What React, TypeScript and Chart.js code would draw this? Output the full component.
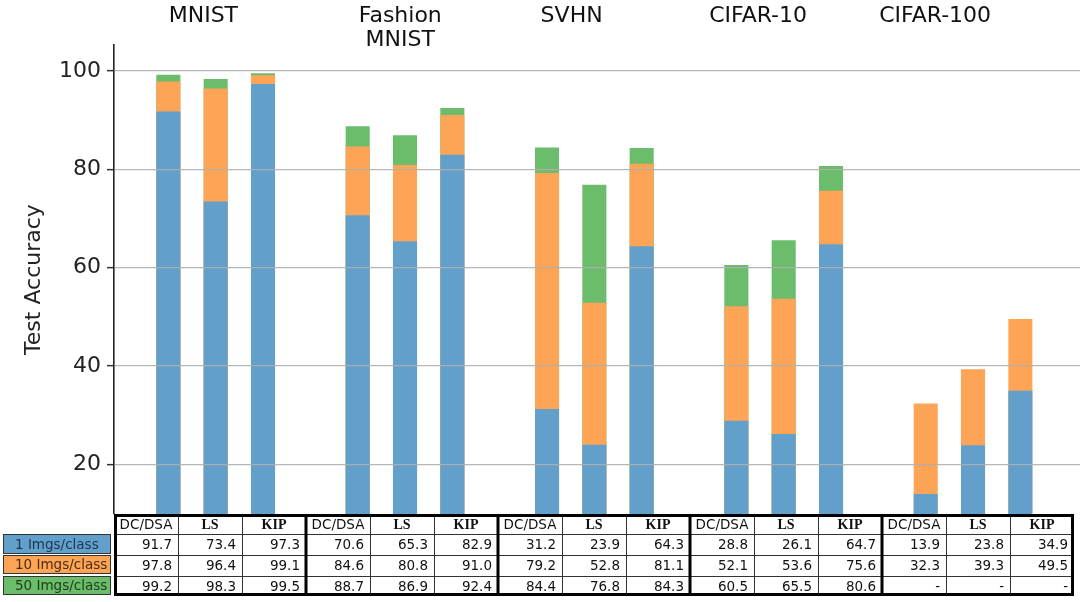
import { useEffect, useRef } from "react";
import { Chart, registerables } from "chart.js";

Chart.register(...registerables);

// ---------- data ----------
const datasetNames = ["MNIST", "Fashion\nMNIST", "SVHN", "CIFAR-10", "CIFAR-100"];
const methods = ["DC/DSA", "LS", "KIP"];
const rowLabels = ["1 Imgs/class", "10 Imgs/class", "50 Imgs/class"];
// order: MNIST(DC/DSA, LS, KIP), Fashion, SVHN, CIFAR-10, CIFAR-100
const acc1 = [91.7, 73.4, 97.3, 70.6, 65.3, 82.9, 31.2, 23.9, 64.3, 28.8, 26.1, 64.7, 13.9, 23.8, 34.9];
const acc10 = [97.8, 96.4, 99.1, 84.6, 80.8, 91.0, 79.2, 52.8, 81.1, 52.1, 53.6, 75.6, 32.3, 39.3, 49.5];
const acc50: (number | null)[] = [99.2, 98.3, 99.5, 88.7, 86.9, 92.4, 84.4, 76.8, 84.3, 60.5, 65.5, 80.6, null, null, null];
const yTicks = [20, 40, 60, 80, 100];

// ---------- styles / layout ----------
const COLORS = ["#62a0cb", "#fea456", "#6bbc6b"];
const LABEL_TEXT = ["#1c3550", "#4a2e10", "#1d3d1d"];
const FONT = '"DejaVu Sans", sans-serif';
const SERIF = '"Liberation Serif", "DejaVu Serif", serif';
// x positions (in slot units) of the group titles
const TITLE_SLOTS = [1.74, 5.9, 9.52, 13.46, 17.2];

const slotOf = (i: number) => Math.floor(i / 3) * 4 + (i % 3) + 1;
const series = [acc1, acc10, acc50];

const overlayPlugin = {
  id: "overlay",
  afterDraw(chart: any) {
    const { ctx, chartArea, scales } = chart;
    const xs = scales.x;
    ctx.save();

    // group titles
    ctx.fillStyle = "#111";
    ctx.font = `22px ${FONT}`;
    ctx.textAlign = "center";
    ctx.textBaseline = "alphabetic";
    datasetNames.forEach((name, g) => {
      const px = xs.getPixelForValue(TITLE_SLOTS[g]);
      name.split("\n").forEach((line, li) => {
        ctx.fillText(line, px, 22 + li * 24);
      });
    });

    // table
    const left = chartArea.left;
    const top = chartArea.bottom;
    const colW = 64;
    const groupW = colW * 3;
    const rowsY = [top, top + 20, top + 41, top + 62, top + 82];
    const right = left + groupW * datasetNames.length;

    ctx.fillStyle = "#fff";
    ctx.fillRect(left, top, right - left, rowsY[4] - top);

    // header
    ctx.textBaseline = "middle";
    ctx.fillStyle = "#111";
    for (let g = 0; g < datasetNames.length; g++) {
      methods.forEach((m, k) => {
        const cx = left + g * groupW + k * colW + colW / 2;
        ctx.textAlign = "center";
        ctx.font = m === "DC/DSA" ? `13.5px ${FONT}` : `bold 14px ${SERIF}`;
        ctx.fillText(m, cx, (rowsY[0] + rowsY[1]) / 2 + 1);
      });
    }
    // values
    ctx.font = `13.5px ${FONT}`;
    series.forEach((arr, r) => {
      const cy = (rowsY[r + 1] + rowsY[r + 2]) / 2 + 1;
      arr.forEach((v, i) => {
        const g = Math.floor(i / 3);
        const k = i % 3;
        const cellR = left + g * groupW + (k + 1) * colW;
        ctx.textAlign = "right";
        ctx.fillText(v == null ? "-" : v.toFixed(1), cellR - 6, cy);
      });
    });

    // thin grid lines
    ctx.strokeStyle = "#333";
    ctx.lineWidth = 1;
    for (let r = 1; r < 4; r++) {
      ctx.beginPath();
      ctx.moveTo(left, rowsY[r] + 0.5);
      ctx.lineTo(right, rowsY[r] + 0.5);
      ctx.stroke();
    }
    for (let g = 0; g < datasetNames.length; g++) {
      for (let k = 1; k < 3; k++) {
        const x = Math.round(left + g * groupW + k * colW) + 0.5;
        ctx.beginPath();
        ctx.moveTo(x, top);
        ctx.lineTo(x, rowsY[4]);
        ctx.stroke();
      }
    }
    // thick borders
    ctx.strokeStyle = "#000";
    ctx.lineWidth = 3;
    ctx.strokeRect(left + 1.5, top + 1.5, right - left - 3, rowsY[4] - top - 3);
    for (let g = 1; g < datasetNames.length; g++) {
      const x = left + g * groupW;
      ctx.beginPath();
      ctx.moveTo(x, top);
      ctx.lineTo(x, rowsY[4]);
      ctx.stroke();
    }

    // row label cells
    const lblL = 3;
    const lblR = 111;
    const lblRows = [
      [top + 20, top + 40],
      [top + 41, top + 60],
      [top + 62, top + 81],
    ];
    rowLabels.forEach((lab, r) => {
      const [y0, y1] = lblRows[r];
      ctx.fillStyle = COLORS[r];
      ctx.fillRect(lblL, y0, lblR - lblL, y1 - y0);
      ctx.strokeStyle = "#333";
      ctx.lineWidth = 1;
      ctx.strokeRect(lblL + 0.5, y0 + 0.5, lblR - lblL - 1, y1 - y0 - 1);
      ctx.fillStyle = LABEL_TEXT[r];
      ctx.font = `13.5px ${FONT}`;
      ctx.textAlign = "left";
      ctx.textBaseline = "middle";
      ctx.fillText(lab, 15, (y0 + y1) / 2 + 1);
    });

    ctx.restore();
  },
};

export default function App() {
  const ref = useRef<HTMLCanvasElement | null>(null);

  useEffect(() => {
    if (!ref.current) return;
    const chart = new Chart(ref.current, {
      type: "bar",
      data: {
        datasets: series.map((arr, r) => ({
          label: rowLabels[r],
          data: arr.map((v, i) => ({ x: slotOf(i), y: v })),
          backgroundColor: COLORS[r],
          borderWidth: 0,
          barThickness: 23.4,
          grouped: false,
        })) as any,
      },
      options: {
        animation: false,
        responsive: false,
        devicePixelRatio: 1,
        layout: { padding: { top: 45, bottom: 88, left: 0, right: 0 } },
        plugins: {
          legend: { display: false },
          tooltip: { enabled: false },
        },
        scales: {
          x: {
            type: "linear",
            min: -0.148,
            max: 20.26,
            offset: false,
            display: false,
          },
          y: {
            min: 9.9,
            max: 105.3,
            afterFit: (scale: any) => {
              scale.width = 114;
            },
            afterBuildTicks: (scale: any) => {
              scale.ticks = yTicks.map((v) => ({ value: v }));
            },
            grid: {
              z: 1,
              color: "rgba(175,175,175,0.9)",
              lineWidth: 1.3,
              tickColor: "#333",
              tickLength: 7,
              tickWidth: 1.5,
            },
            border: { display: true, color: "#222", width: 1.6, z: 2 },
            ticks: {
              padding: 6,
              color: "#222",
              font: { family: FONT, size: 22 },
            },
            title: {
              display: true,
              text: "Test Accuracy",
              color: "#222",
              font: { family: FONT, size: 22 },
              padding: { top: 21, bottom: 0 },
            },
          },
        },
      },
      plugins: [overlayPlugin],
    });
    return () => chart.destroy();
  }, []);

  return (
    <div style={{ position: "absolute", left: 0, top: 0, width: 1080, height: 602, background: "#fff" }}>
      <canvas ref={ref} width={1080} height={602} style={{ width: 1080, height: 602, display: "block" }} />
    </div>
  );
}
